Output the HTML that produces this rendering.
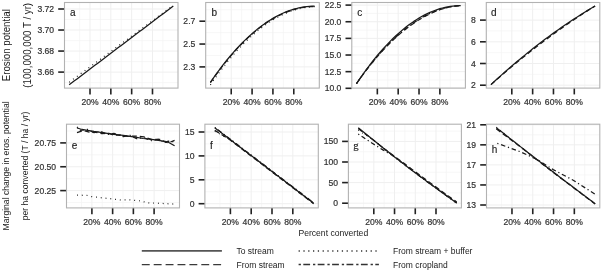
<!DOCTYPE html><html><head><meta charset="utf-8"><style>html,body{margin:0;padding:0;background:#fff;width:602px;height:271px;overflow:hidden}</style></head><body><svg width="602" height="271" viewBox="0 0 602 271" style="display:block;font-family:'Liberation Sans', sans-serif;filter:grayscale(1) blur(0.3px)">
<rect width="602" height="271" fill="#fff"/>
<line x1="64.5" x2="178.0" y1="19.52" y2="19.52" stroke="#f4f4f4" stroke-width="0.7"/>
<line x1="64.5" x2="178.0" y1="40.55" y2="40.55" stroke="#f4f4f4" stroke-width="0.7"/>
<line x1="64.5" x2="178.0" y1="61.58" y2="61.58" stroke="#f4f4f4" stroke-width="0.7"/>
<line x1="64.5" x2="178.0" y1="82.62" y2="82.62" stroke="#f4f4f4" stroke-width="0.7"/>
<line x1="79.60" x2="79.60" y1="2.5" y2="88.1" stroke="#f4f4f4" stroke-width="0.7"/>
<line x1="100.42" x2="100.42" y1="2.5" y2="88.1" stroke="#f4f4f4" stroke-width="0.7"/>
<line x1="121.25" x2="121.25" y1="2.5" y2="88.1" stroke="#f4f4f4" stroke-width="0.7"/>
<line x1="142.08" x2="142.08" y1="2.5" y2="88.1" stroke="#f4f4f4" stroke-width="0.7"/>
<line x1="162.90" x2="162.90" y1="2.5" y2="88.1" stroke="#f4f4f4" stroke-width="0.7"/>
<line x1="64.5" x2="178.0" y1="9.00" y2="9.00" stroke="#efefef" stroke-width="1"/>
<line x1="64.5" x2="178.0" y1="30.03" y2="30.03" stroke="#efefef" stroke-width="1"/>
<line x1="64.5" x2="178.0" y1="51.07" y2="51.07" stroke="#efefef" stroke-width="1"/>
<line x1="64.5" x2="178.0" y1="72.10" y2="72.10" stroke="#efefef" stroke-width="1"/>
<line x1="90.01" x2="90.01" y1="2.5" y2="88.1" stroke="#efefef" stroke-width="1"/>
<line x1="110.84" x2="110.84" y1="2.5" y2="88.1" stroke="#efefef" stroke-width="1"/>
<line x1="131.66" x2="131.66" y1="2.5" y2="88.1" stroke="#efefef" stroke-width="1"/>
<line x1="152.49" x2="152.49" y1="2.5" y2="88.1" stroke="#efefef" stroke-width="1"/>
<line x1="58.20" x2="64.50" y1="9.00" y2="9.00" stroke="#222" stroke-width="1.6"/>
<text transform="translate(54.10,12.00) scale(1,1.08)" font-size="8.6" fill="#333" stroke="#333" stroke-width="0.2" text-anchor="end">3.72</text>
<line x1="58.20" x2="64.50" y1="30.03" y2="30.03" stroke="#222" stroke-width="1.6"/>
<text transform="translate(54.10,33.03) scale(1,1.08)" font-size="8.6" fill="#333" stroke="#333" stroke-width="0.2" text-anchor="end">3.70</text>
<line x1="58.20" x2="64.50" y1="51.07" y2="51.07" stroke="#222" stroke-width="1.6"/>
<text transform="translate(54.10,54.07) scale(1,1.08)" font-size="8.6" fill="#333" stroke="#333" stroke-width="0.2" text-anchor="end">3.68</text>
<line x1="58.20" x2="64.50" y1="72.10" y2="72.10" stroke="#222" stroke-width="1.6"/>
<text transform="translate(54.10,75.10) scale(1,1.08)" font-size="8.6" fill="#333" stroke="#333" stroke-width="0.2" text-anchor="end">3.66</text>
<line x1="90.01" x2="90.01" y1="88.10" y2="94.40" stroke="#222" stroke-width="1.6"/>
<text transform="translate(90.01,105.00) scale(1,1.08)" font-size="8.6" fill="#333" stroke="#333" stroke-width="0.2" text-anchor="middle">20%</text>
<line x1="110.84" x2="110.84" y1="88.10" y2="94.40" stroke="#222" stroke-width="1.6"/>
<text transform="translate(110.84,105.00) scale(1,1.08)" font-size="8.6" fill="#333" stroke="#333" stroke-width="0.2" text-anchor="middle">40%</text>
<line x1="131.66" x2="131.66" y1="88.10" y2="94.40" stroke="#222" stroke-width="1.6"/>
<text transform="translate(131.66,105.00) scale(1,1.08)" font-size="8.6" fill="#333" stroke="#333" stroke-width="0.2" text-anchor="middle">60%</text>
<line x1="152.49" x2="152.49" y1="88.10" y2="94.40" stroke="#222" stroke-width="1.6"/>
<text transform="translate(152.49,105.00) scale(1,1.08)" font-size="8.6" fill="#333" stroke="#333" stroke-width="0.2" text-anchor="middle">80%</text>
<text x="70.0" y="15.600000000000001" font-size="10.0" fill="#222" stroke="#222" stroke-width="0.15" style="font-family:'Liberation Sans', sans-serif">a</text>
<line x1="205.7" x2="319.3" y1="9.78" y2="9.78" stroke="#f4f4f4" stroke-width="0.7"/>
<line x1="205.7" x2="319.3" y1="32.62" y2="32.62" stroke="#f4f4f4" stroke-width="0.7"/>
<line x1="205.7" x2="319.3" y1="55.48" y2="55.48" stroke="#f4f4f4" stroke-width="0.7"/>
<line x1="205.7" x2="319.3" y1="78.32" y2="78.32" stroke="#f4f4f4" stroke-width="0.7"/>
<line x1="220.81" x2="220.81" y1="2.5" y2="88.1" stroke="#f4f4f4" stroke-width="0.7"/>
<line x1="241.66" x2="241.66" y1="2.5" y2="88.1" stroke="#f4f4f4" stroke-width="0.7"/>
<line x1="262.50" x2="262.50" y1="2.5" y2="88.1" stroke="#f4f4f4" stroke-width="0.7"/>
<line x1="283.34" x2="283.34" y1="2.5" y2="88.1" stroke="#f4f4f4" stroke-width="0.7"/>
<line x1="304.19" x2="304.19" y1="2.5" y2="88.1" stroke="#f4f4f4" stroke-width="0.7"/>
<line x1="205.7" x2="319.3" y1="21.20" y2="21.20" stroke="#efefef" stroke-width="1"/>
<line x1="205.7" x2="319.3" y1="44.05" y2="44.05" stroke="#efefef" stroke-width="1"/>
<line x1="205.7" x2="319.3" y1="66.90" y2="66.90" stroke="#efefef" stroke-width="1"/>
<line x1="231.23" x2="231.23" y1="2.5" y2="88.1" stroke="#efefef" stroke-width="1"/>
<line x1="252.08" x2="252.08" y1="2.5" y2="88.1" stroke="#efefef" stroke-width="1"/>
<line x1="272.92" x2="272.92" y1="2.5" y2="88.1" stroke="#efefef" stroke-width="1"/>
<line x1="293.77" x2="293.77" y1="2.5" y2="88.1" stroke="#efefef" stroke-width="1"/>
<line x1="199.40" x2="205.70" y1="21.20" y2="21.20" stroke="#222" stroke-width="1.6"/>
<text transform="translate(195.30,24.20) scale(1,1.08)" font-size="8.6" fill="#333" stroke="#333" stroke-width="0.2" text-anchor="end">2.7</text>
<line x1="199.40" x2="205.70" y1="44.05" y2="44.05" stroke="#222" stroke-width="1.6"/>
<text transform="translate(195.30,47.05) scale(1,1.08)" font-size="8.6" fill="#333" stroke="#333" stroke-width="0.2" text-anchor="end">2.5</text>
<line x1="199.40" x2="205.70" y1="66.90" y2="66.90" stroke="#222" stroke-width="1.6"/>
<text transform="translate(195.30,69.90) scale(1,1.08)" font-size="8.6" fill="#333" stroke="#333" stroke-width="0.2" text-anchor="end">2.3</text>
<line x1="231.23" x2="231.23" y1="88.10" y2="94.40" stroke="#222" stroke-width="1.6"/>
<text transform="translate(231.23,105.00) scale(1,1.08)" font-size="8.6" fill="#333" stroke="#333" stroke-width="0.2" text-anchor="middle">20%</text>
<line x1="252.08" x2="252.08" y1="88.10" y2="94.40" stroke="#222" stroke-width="1.6"/>
<text transform="translate(252.08,105.00) scale(1,1.08)" font-size="8.6" fill="#333" stroke="#333" stroke-width="0.2" text-anchor="middle">40%</text>
<line x1="272.92" x2="272.92" y1="88.10" y2="94.40" stroke="#222" stroke-width="1.6"/>
<text transform="translate(272.92,105.00) scale(1,1.08)" font-size="8.6" fill="#333" stroke="#333" stroke-width="0.2" text-anchor="middle">60%</text>
<line x1="293.77" x2="293.77" y1="88.10" y2="94.40" stroke="#222" stroke-width="1.6"/>
<text transform="translate(293.77,105.00) scale(1,1.08)" font-size="8.6" fill="#333" stroke="#333" stroke-width="0.2" text-anchor="middle">80%</text>
<text x="211.6" y="15.600000000000001" font-size="10.0" fill="#222" stroke="#222" stroke-width="0.15" style="font-family:'Liberation Sans', sans-serif">b</text>
<line x1="351.8" x2="465.4" y1="13.42" y2="13.42" stroke="#f4f4f4" stroke-width="0.7"/>
<line x1="351.8" x2="465.4" y1="30.06" y2="30.06" stroke="#f4f4f4" stroke-width="0.7"/>
<line x1="351.8" x2="465.4" y1="46.70" y2="46.70" stroke="#f4f4f4" stroke-width="0.7"/>
<line x1="351.8" x2="465.4" y1="63.34" y2="63.34" stroke="#f4f4f4" stroke-width="0.7"/>
<line x1="351.8" x2="465.4" y1="79.98" y2="79.98" stroke="#f4f4f4" stroke-width="0.7"/>
<line x1="366.91" x2="366.91" y1="2.5" y2="88.1" stroke="#f4f4f4" stroke-width="0.7"/>
<line x1="387.76" x2="387.76" y1="2.5" y2="88.1" stroke="#f4f4f4" stroke-width="0.7"/>
<line x1="408.60" x2="408.60" y1="2.5" y2="88.1" stroke="#f4f4f4" stroke-width="0.7"/>
<line x1="429.44" x2="429.44" y1="2.5" y2="88.1" stroke="#f4f4f4" stroke-width="0.7"/>
<line x1="450.29" x2="450.29" y1="2.5" y2="88.1" stroke="#f4f4f4" stroke-width="0.7"/>
<line x1="351.8" x2="465.4" y1="5.10" y2="5.10" stroke="#efefef" stroke-width="1"/>
<line x1="351.8" x2="465.4" y1="21.74" y2="21.74" stroke="#efefef" stroke-width="1"/>
<line x1="351.8" x2="465.4" y1="38.38" y2="38.38" stroke="#efefef" stroke-width="1"/>
<line x1="351.8" x2="465.4" y1="55.02" y2="55.02" stroke="#efefef" stroke-width="1"/>
<line x1="351.8" x2="465.4" y1="71.66" y2="71.66" stroke="#efefef" stroke-width="1"/>
<line x1="351.8" x2="465.4" y1="88.30" y2="88.30" stroke="#efefef" stroke-width="1"/>
<line x1="377.33" x2="377.33" y1="2.5" y2="88.1" stroke="#efefef" stroke-width="1"/>
<line x1="398.18" x2="398.18" y1="2.5" y2="88.1" stroke="#efefef" stroke-width="1"/>
<line x1="419.02" x2="419.02" y1="2.5" y2="88.1" stroke="#efefef" stroke-width="1"/>
<line x1="439.87" x2="439.87" y1="2.5" y2="88.1" stroke="#efefef" stroke-width="1"/>
<line x1="345.50" x2="351.80" y1="5.10" y2="5.10" stroke="#222" stroke-width="1.6"/>
<text transform="translate(341.40,8.10) scale(1,1.08)" font-size="8.6" fill="#333" stroke="#333" stroke-width="0.2" text-anchor="end">22.5</text>
<line x1="345.50" x2="351.80" y1="21.74" y2="21.74" stroke="#222" stroke-width="1.6"/>
<text transform="translate(341.40,24.74) scale(1,1.08)" font-size="8.6" fill="#333" stroke="#333" stroke-width="0.2" text-anchor="end">20.0</text>
<line x1="345.50" x2="351.80" y1="38.38" y2="38.38" stroke="#222" stroke-width="1.6"/>
<text transform="translate(341.40,41.38) scale(1,1.08)" font-size="8.6" fill="#333" stroke="#333" stroke-width="0.2" text-anchor="end">17.5</text>
<line x1="345.50" x2="351.80" y1="55.02" y2="55.02" stroke="#222" stroke-width="1.6"/>
<text transform="translate(341.40,58.02) scale(1,1.08)" font-size="8.6" fill="#333" stroke="#333" stroke-width="0.2" text-anchor="end">15.0</text>
<line x1="345.50" x2="351.80" y1="71.66" y2="71.66" stroke="#222" stroke-width="1.6"/>
<text transform="translate(341.40,74.66) scale(1,1.08)" font-size="8.6" fill="#333" stroke="#333" stroke-width="0.2" text-anchor="end">12.5</text>
<line x1="345.50" x2="351.80" y1="88.30" y2="88.30" stroke="#222" stroke-width="1.6"/>
<text transform="translate(341.40,91.30) scale(1,1.08)" font-size="8.6" fill="#333" stroke="#333" stroke-width="0.2" text-anchor="end">10.0</text>
<line x1="377.33" x2="377.33" y1="88.10" y2="94.40" stroke="#222" stroke-width="1.6"/>
<text transform="translate(377.33,105.00) scale(1,1.08)" font-size="8.6" fill="#333" stroke="#333" stroke-width="0.2" text-anchor="middle">20%</text>
<line x1="398.18" x2="398.18" y1="88.10" y2="94.40" stroke="#222" stroke-width="1.6"/>
<text transform="translate(398.18,105.00) scale(1,1.08)" font-size="8.6" fill="#333" stroke="#333" stroke-width="0.2" text-anchor="middle">40%</text>
<line x1="419.02" x2="419.02" y1="88.10" y2="94.40" stroke="#222" stroke-width="1.6"/>
<text transform="translate(419.02,105.00) scale(1,1.08)" font-size="8.6" fill="#333" stroke="#333" stroke-width="0.2" text-anchor="middle">60%</text>
<line x1="439.87" x2="439.87" y1="88.10" y2="94.40" stroke="#222" stroke-width="1.6"/>
<text transform="translate(439.87,105.00) scale(1,1.08)" font-size="8.6" fill="#333" stroke="#333" stroke-width="0.2" text-anchor="middle">80%</text>
<text x="357.3" y="15.600000000000001" font-size="10.0" fill="#222" stroke="#222" stroke-width="0.15" style="font-family:'Liberation Sans', sans-serif">c</text>
<line x1="486.3" x2="599.8" y1="9.25" y2="9.25" stroke="#f4f4f4" stroke-width="0.7"/>
<line x1="486.3" x2="599.8" y1="30.95" y2="30.95" stroke="#f4f4f4" stroke-width="0.7"/>
<line x1="486.3" x2="599.8" y1="52.65" y2="52.65" stroke="#f4f4f4" stroke-width="0.7"/>
<line x1="486.3" x2="599.8" y1="74.35" y2="74.35" stroke="#f4f4f4" stroke-width="0.7"/>
<line x1="501.40" x2="501.40" y1="2.5" y2="88.1" stroke="#f4f4f4" stroke-width="0.7"/>
<line x1="522.22" x2="522.22" y1="2.5" y2="88.1" stroke="#f4f4f4" stroke-width="0.7"/>
<line x1="543.05" x2="543.05" y1="2.5" y2="88.1" stroke="#f4f4f4" stroke-width="0.7"/>
<line x1="563.88" x2="563.88" y1="2.5" y2="88.1" stroke="#f4f4f4" stroke-width="0.7"/>
<line x1="584.70" x2="584.70" y1="2.5" y2="88.1" stroke="#f4f4f4" stroke-width="0.7"/>
<line x1="486.3" x2="599.8" y1="20.10" y2="20.10" stroke="#efefef" stroke-width="1"/>
<line x1="486.3" x2="599.8" y1="41.80" y2="41.80" stroke="#efefef" stroke-width="1"/>
<line x1="486.3" x2="599.8" y1="63.50" y2="63.50" stroke="#efefef" stroke-width="1"/>
<line x1="486.3" x2="599.8" y1="85.20" y2="85.20" stroke="#efefef" stroke-width="1"/>
<line x1="511.81" x2="511.81" y1="2.5" y2="88.1" stroke="#efefef" stroke-width="1"/>
<line x1="532.64" x2="532.64" y1="2.5" y2="88.1" stroke="#efefef" stroke-width="1"/>
<line x1="553.46" x2="553.46" y1="2.5" y2="88.1" stroke="#efefef" stroke-width="1"/>
<line x1="574.29" x2="574.29" y1="2.5" y2="88.1" stroke="#efefef" stroke-width="1"/>
<line x1="480.00" x2="486.30" y1="20.10" y2="20.10" stroke="#222" stroke-width="1.6"/>
<text transform="translate(475.90,23.10) scale(1,1.08)" font-size="8.6" fill="#333" stroke="#333" stroke-width="0.2" text-anchor="end">8</text>
<line x1="480.00" x2="486.30" y1="41.80" y2="41.80" stroke="#222" stroke-width="1.6"/>
<text transform="translate(475.90,44.80) scale(1,1.08)" font-size="8.6" fill="#333" stroke="#333" stroke-width="0.2" text-anchor="end">6</text>
<line x1="480.00" x2="486.30" y1="63.50" y2="63.50" stroke="#222" stroke-width="1.6"/>
<text transform="translate(475.90,66.50) scale(1,1.08)" font-size="8.6" fill="#333" stroke="#333" stroke-width="0.2" text-anchor="end">4</text>
<line x1="480.00" x2="486.30" y1="85.20" y2="85.20" stroke="#222" stroke-width="1.6"/>
<text transform="translate(475.90,88.20) scale(1,1.08)" font-size="8.6" fill="#333" stroke="#333" stroke-width="0.2" text-anchor="end">2</text>
<line x1="511.81" x2="511.81" y1="88.10" y2="94.40" stroke="#222" stroke-width="1.6"/>
<text transform="translate(511.81,105.00) scale(1,1.08)" font-size="8.6" fill="#333" stroke="#333" stroke-width="0.2" text-anchor="middle">20%</text>
<line x1="532.64" x2="532.64" y1="88.10" y2="94.40" stroke="#222" stroke-width="1.6"/>
<text transform="translate(532.64,105.00) scale(1,1.08)" font-size="8.6" fill="#333" stroke="#333" stroke-width="0.2" text-anchor="middle">40%</text>
<line x1="553.46" x2="553.46" y1="88.10" y2="94.40" stroke="#222" stroke-width="1.6"/>
<text transform="translate(553.46,105.00) scale(1,1.08)" font-size="8.6" fill="#333" stroke="#333" stroke-width="0.2" text-anchor="middle">60%</text>
<line x1="574.29" x2="574.29" y1="88.10" y2="94.40" stroke="#222" stroke-width="1.6"/>
<text transform="translate(574.29,105.00) scale(1,1.08)" font-size="8.6" fill="#333" stroke="#333" stroke-width="0.2" text-anchor="middle">80%</text>
<text x="490.9" y="15.600000000000001" font-size="10.0" fill="#222" stroke="#222" stroke-width="0.15" style="font-family:'Liberation Sans', sans-serif">d</text>
<line x1="66.5" x2="179.5" y1="130.98" y2="130.98" stroke="#f4f4f4" stroke-width="0.7"/>
<line x1="66.5" x2="179.5" y1="154.82" y2="154.82" stroke="#f4f4f4" stroke-width="0.7"/>
<line x1="66.5" x2="179.5" y1="178.68" y2="178.68" stroke="#f4f4f4" stroke-width="0.7"/>
<line x1="66.5" x2="179.5" y1="202.52" y2="202.52" stroke="#f4f4f4" stroke-width="0.7"/>
<line x1="81.53" x2="81.53" y1="124.2" y2="207.9" stroke="#f4f4f4" stroke-width="0.7"/>
<line x1="102.27" x2="102.27" y1="124.2" y2="207.9" stroke="#f4f4f4" stroke-width="0.7"/>
<line x1="123.00" x2="123.00" y1="124.2" y2="207.9" stroke="#f4f4f4" stroke-width="0.7"/>
<line x1="143.73" x2="143.73" y1="124.2" y2="207.9" stroke="#f4f4f4" stroke-width="0.7"/>
<line x1="164.47" x2="164.47" y1="124.2" y2="207.9" stroke="#f4f4f4" stroke-width="0.7"/>
<line x1="66.5" x2="179.5" y1="142.90" y2="142.90" stroke="#efefef" stroke-width="1"/>
<line x1="66.5" x2="179.5" y1="166.75" y2="166.75" stroke="#efefef" stroke-width="1"/>
<line x1="66.5" x2="179.5" y1="190.60" y2="190.60" stroke="#efefef" stroke-width="1"/>
<line x1="91.90" x2="91.90" y1="124.2" y2="207.9" stroke="#efefef" stroke-width="1"/>
<line x1="112.63" x2="112.63" y1="124.2" y2="207.9" stroke="#efefef" stroke-width="1"/>
<line x1="133.37" x2="133.37" y1="124.2" y2="207.9" stroke="#efefef" stroke-width="1"/>
<line x1="154.10" x2="154.10" y1="124.2" y2="207.9" stroke="#efefef" stroke-width="1"/>
<line x1="60.20" x2="66.50" y1="142.90" y2="142.90" stroke="#222" stroke-width="1.6"/>
<text transform="translate(56.10,145.90) scale(1,1.08)" font-size="8.6" fill="#333" stroke="#333" stroke-width="0.2" text-anchor="end">20.75</text>
<line x1="60.20" x2="66.50" y1="166.75" y2="166.75" stroke="#222" stroke-width="1.6"/>
<text transform="translate(56.10,169.75) scale(1,1.08)" font-size="8.6" fill="#333" stroke="#333" stroke-width="0.2" text-anchor="end">20.50</text>
<line x1="60.20" x2="66.50" y1="190.60" y2="190.60" stroke="#222" stroke-width="1.6"/>
<text transform="translate(56.10,193.60) scale(1,1.08)" font-size="8.6" fill="#333" stroke="#333" stroke-width="0.2" text-anchor="end">20.25</text>
<line x1="91.90" x2="91.90" y1="207.90" y2="214.20" stroke="#222" stroke-width="1.6"/>
<text transform="translate(91.90,224.80) scale(1,1.08)" font-size="8.6" fill="#333" stroke="#333" stroke-width="0.2" text-anchor="middle">20%</text>
<line x1="112.63" x2="112.63" y1="207.90" y2="214.20" stroke="#222" stroke-width="1.6"/>
<text transform="translate(112.63,224.80) scale(1,1.08)" font-size="8.6" fill="#333" stroke="#333" stroke-width="0.2" text-anchor="middle">40%</text>
<line x1="133.37" x2="133.37" y1="207.90" y2="214.20" stroke="#222" stroke-width="1.6"/>
<text transform="translate(133.37,224.80) scale(1,1.08)" font-size="8.6" fill="#333" stroke="#333" stroke-width="0.2" text-anchor="middle">60%</text>
<line x1="154.10" x2="154.10" y1="207.90" y2="214.20" stroke="#222" stroke-width="1.6"/>
<text transform="translate(154.10,224.80) scale(1,1.08)" font-size="8.6" fill="#333" stroke="#333" stroke-width="0.2" text-anchor="middle">80%</text>
<text x="71.8" y="148.60000000000002" font-size="10.0" fill="#222" stroke="#222" stroke-width="0.15" style="font-family:'Liberation Sans', sans-serif">e</text>
<line x1="204.9" x2="318.3" y1="143.95" y2="143.95" stroke="#f4f4f4" stroke-width="0.7"/>
<line x1="204.9" x2="318.3" y1="167.85" y2="167.85" stroke="#f4f4f4" stroke-width="0.7"/>
<line x1="204.9" x2="318.3" y1="191.75" y2="191.75" stroke="#f4f4f4" stroke-width="0.7"/>
<line x1="219.99" x2="219.99" y1="124.2" y2="207.9" stroke="#f4f4f4" stroke-width="0.7"/>
<line x1="240.79" x2="240.79" y1="124.2" y2="207.9" stroke="#f4f4f4" stroke-width="0.7"/>
<line x1="261.60" x2="261.60" y1="124.2" y2="207.9" stroke="#f4f4f4" stroke-width="0.7"/>
<line x1="282.41" x2="282.41" y1="124.2" y2="207.9" stroke="#f4f4f4" stroke-width="0.7"/>
<line x1="303.21" x2="303.21" y1="124.2" y2="207.9" stroke="#f4f4f4" stroke-width="0.7"/>
<line x1="204.9" x2="318.3" y1="132.00" y2="132.00" stroke="#efefef" stroke-width="1"/>
<line x1="204.9" x2="318.3" y1="155.90" y2="155.90" stroke="#efefef" stroke-width="1"/>
<line x1="204.9" x2="318.3" y1="179.80" y2="179.80" stroke="#efefef" stroke-width="1"/>
<line x1="204.9" x2="318.3" y1="203.70" y2="203.70" stroke="#efefef" stroke-width="1"/>
<line x1="230.39" x2="230.39" y1="124.2" y2="207.9" stroke="#efefef" stroke-width="1"/>
<line x1="251.20" x2="251.20" y1="124.2" y2="207.9" stroke="#efefef" stroke-width="1"/>
<line x1="272.00" x2="272.00" y1="124.2" y2="207.9" stroke="#efefef" stroke-width="1"/>
<line x1="292.81" x2="292.81" y1="124.2" y2="207.9" stroke="#efefef" stroke-width="1"/>
<line x1="198.60" x2="204.90" y1="132.00" y2="132.00" stroke="#222" stroke-width="1.6"/>
<text transform="translate(194.50,135.00) scale(1,1.08)" font-size="8.6" fill="#333" stroke="#333" stroke-width="0.2" text-anchor="end">15</text>
<line x1="198.60" x2="204.90" y1="155.90" y2="155.90" stroke="#222" stroke-width="1.6"/>
<text transform="translate(194.50,158.90) scale(1,1.08)" font-size="8.6" fill="#333" stroke="#333" stroke-width="0.2" text-anchor="end">10</text>
<line x1="198.60" x2="204.90" y1="179.80" y2="179.80" stroke="#222" stroke-width="1.6"/>
<text transform="translate(194.50,182.80) scale(1,1.08)" font-size="8.6" fill="#333" stroke="#333" stroke-width="0.2" text-anchor="end">5</text>
<line x1="198.60" x2="204.90" y1="203.70" y2="203.70" stroke="#222" stroke-width="1.6"/>
<text transform="translate(194.50,206.70) scale(1,1.08)" font-size="8.6" fill="#333" stroke="#333" stroke-width="0.2" text-anchor="end">0</text>
<line x1="230.39" x2="230.39" y1="207.90" y2="214.20" stroke="#222" stroke-width="1.6"/>
<text transform="translate(230.39,224.80) scale(1,1.08)" font-size="8.6" fill="#333" stroke="#333" stroke-width="0.2" text-anchor="middle">20%</text>
<line x1="251.20" x2="251.20" y1="207.90" y2="214.20" stroke="#222" stroke-width="1.6"/>
<text transform="translate(251.20,224.80) scale(1,1.08)" font-size="8.6" fill="#333" stroke="#333" stroke-width="0.2" text-anchor="middle">40%</text>
<line x1="272.00" x2="272.00" y1="207.90" y2="214.20" stroke="#222" stroke-width="1.6"/>
<text transform="translate(272.00,224.80) scale(1,1.08)" font-size="8.6" fill="#333" stroke="#333" stroke-width="0.2" text-anchor="middle">60%</text>
<line x1="292.81" x2="292.81" y1="207.90" y2="214.20" stroke="#222" stroke-width="1.6"/>
<text transform="translate(292.81,224.80) scale(1,1.08)" font-size="8.6" fill="#333" stroke="#333" stroke-width="0.2" text-anchor="middle">80%</text>
<text x="210.0" y="148.8" font-size="10.0" fill="#222" stroke="#222" stroke-width="0.15" style="font-family:'Liberation Sans', sans-serif">f</text>
<line x1="348.4" x2="461.4" y1="131.10" y2="131.10" stroke="#f4f4f4" stroke-width="0.7"/>
<line x1="348.4" x2="461.4" y1="151.70" y2="151.70" stroke="#f4f4f4" stroke-width="0.7"/>
<line x1="348.4" x2="461.4" y1="172.30" y2="172.30" stroke="#f4f4f4" stroke-width="0.7"/>
<line x1="348.4" x2="461.4" y1="192.90" y2="192.90" stroke="#f4f4f4" stroke-width="0.7"/>
<line x1="363.43" x2="363.43" y1="124.2" y2="207.9" stroke="#f4f4f4" stroke-width="0.7"/>
<line x1="384.17" x2="384.17" y1="124.2" y2="207.9" stroke="#f4f4f4" stroke-width="0.7"/>
<line x1="404.90" x2="404.90" y1="124.2" y2="207.9" stroke="#f4f4f4" stroke-width="0.7"/>
<line x1="425.63" x2="425.63" y1="124.2" y2="207.9" stroke="#f4f4f4" stroke-width="0.7"/>
<line x1="446.37" x2="446.37" y1="124.2" y2="207.9" stroke="#f4f4f4" stroke-width="0.7"/>
<line x1="348.4" x2="461.4" y1="141.40" y2="141.40" stroke="#efefef" stroke-width="1"/>
<line x1="348.4" x2="461.4" y1="162.00" y2="162.00" stroke="#efefef" stroke-width="1"/>
<line x1="348.4" x2="461.4" y1="182.60" y2="182.60" stroke="#efefef" stroke-width="1"/>
<line x1="348.4" x2="461.4" y1="203.20" y2="203.20" stroke="#efefef" stroke-width="1"/>
<line x1="373.80" x2="373.80" y1="124.2" y2="207.9" stroke="#efefef" stroke-width="1"/>
<line x1="394.53" x2="394.53" y1="124.2" y2="207.9" stroke="#efefef" stroke-width="1"/>
<line x1="415.27" x2="415.27" y1="124.2" y2="207.9" stroke="#efefef" stroke-width="1"/>
<line x1="436.00" x2="436.00" y1="124.2" y2="207.9" stroke="#efefef" stroke-width="1"/>
<line x1="342.10" x2="348.40" y1="141.40" y2="141.40" stroke="#222" stroke-width="1.6"/>
<text transform="translate(338.00,144.40) scale(1,1.08)" font-size="8.6" fill="#333" stroke="#333" stroke-width="0.2" text-anchor="end">150</text>
<line x1="342.10" x2="348.40" y1="162.00" y2="162.00" stroke="#222" stroke-width="1.6"/>
<text transform="translate(338.00,165.00) scale(1,1.08)" font-size="8.6" fill="#333" stroke="#333" stroke-width="0.2" text-anchor="end">100</text>
<line x1="342.10" x2="348.40" y1="182.60" y2="182.60" stroke="#222" stroke-width="1.6"/>
<text transform="translate(338.00,185.60) scale(1,1.08)" font-size="8.6" fill="#333" stroke="#333" stroke-width="0.2" text-anchor="end">50</text>
<line x1="342.10" x2="348.40" y1="203.20" y2="203.20" stroke="#222" stroke-width="1.6"/>
<text transform="translate(338.00,206.20) scale(1,1.08)" font-size="8.6" fill="#333" stroke="#333" stroke-width="0.2" text-anchor="end">0</text>
<line x1="373.80" x2="373.80" y1="207.90" y2="214.20" stroke="#222" stroke-width="1.6"/>
<text transform="translate(373.80,224.80) scale(1,1.08)" font-size="8.6" fill="#333" stroke="#333" stroke-width="0.2" text-anchor="middle">20%</text>
<line x1="394.53" x2="394.53" y1="207.90" y2="214.20" stroke="#222" stroke-width="1.6"/>
<text transform="translate(394.53,224.80) scale(1,1.08)" font-size="8.6" fill="#333" stroke="#333" stroke-width="0.2" text-anchor="middle">40%</text>
<line x1="415.27" x2="415.27" y1="207.90" y2="214.20" stroke="#222" stroke-width="1.6"/>
<text transform="translate(415.27,224.80) scale(1,1.08)" font-size="8.6" fill="#333" stroke="#333" stroke-width="0.2" text-anchor="middle">60%</text>
<line x1="436.00" x2="436.00" y1="207.90" y2="214.20" stroke="#222" stroke-width="1.6"/>
<text transform="translate(436.00,224.80) scale(1,1.08)" font-size="8.6" fill="#333" stroke="#333" stroke-width="0.2" text-anchor="middle">80%</text>
<text x="353.3" y="148.5" font-size="10.8" fill="#222" stroke="#222" stroke-width="0.15" style="font-family:'Liberation Serif', serif">g</text>
<line x1="486.5" x2="599.8" y1="134.82" y2="134.82" stroke="#f4f4f4" stroke-width="0.7"/>
<line x1="486.5" x2="599.8" y1="154.88" y2="154.88" stroke="#f4f4f4" stroke-width="0.7"/>
<line x1="486.5" x2="599.8" y1="174.93" y2="174.93" stroke="#f4f4f4" stroke-width="0.7"/>
<line x1="486.5" x2="599.8" y1="194.97" y2="194.97" stroke="#f4f4f4" stroke-width="0.7"/>
<line x1="501.57" x2="501.57" y1="124.2" y2="207.9" stroke="#f4f4f4" stroke-width="0.7"/>
<line x1="522.36" x2="522.36" y1="124.2" y2="207.9" stroke="#f4f4f4" stroke-width="0.7"/>
<line x1="543.15" x2="543.15" y1="124.2" y2="207.9" stroke="#f4f4f4" stroke-width="0.7"/>
<line x1="563.94" x2="563.94" y1="124.2" y2="207.9" stroke="#f4f4f4" stroke-width="0.7"/>
<line x1="584.73" x2="584.73" y1="124.2" y2="207.9" stroke="#f4f4f4" stroke-width="0.7"/>
<line x1="486.5" x2="599.8" y1="124.80" y2="124.80" stroke="#efefef" stroke-width="1"/>
<line x1="486.5" x2="599.8" y1="144.85" y2="144.85" stroke="#efefef" stroke-width="1"/>
<line x1="486.5" x2="599.8" y1="164.90" y2="164.90" stroke="#efefef" stroke-width="1"/>
<line x1="486.5" x2="599.8" y1="184.95" y2="184.95" stroke="#efefef" stroke-width="1"/>
<line x1="486.5" x2="599.8" y1="205.00" y2="205.00" stroke="#efefef" stroke-width="1"/>
<line x1="511.97" x2="511.97" y1="124.2" y2="207.9" stroke="#efefef" stroke-width="1"/>
<line x1="532.76" x2="532.76" y1="124.2" y2="207.9" stroke="#efefef" stroke-width="1"/>
<line x1="553.54" x2="553.54" y1="124.2" y2="207.9" stroke="#efefef" stroke-width="1"/>
<line x1="574.33" x2="574.33" y1="124.2" y2="207.9" stroke="#efefef" stroke-width="1"/>
<line x1="480.20" x2="486.50" y1="124.80" y2="124.80" stroke="#222" stroke-width="1.6"/>
<text transform="translate(476.10,127.80) scale(1,1.08)" font-size="8.6" fill="#333" stroke="#333" stroke-width="0.2" text-anchor="end">21</text>
<line x1="480.20" x2="486.50" y1="144.85" y2="144.85" stroke="#222" stroke-width="1.6"/>
<text transform="translate(476.10,147.85) scale(1,1.08)" font-size="8.6" fill="#333" stroke="#333" stroke-width="0.2" text-anchor="end">19</text>
<line x1="480.20" x2="486.50" y1="164.90" y2="164.90" stroke="#222" stroke-width="1.6"/>
<text transform="translate(476.10,167.90) scale(1,1.08)" font-size="8.6" fill="#333" stroke="#333" stroke-width="0.2" text-anchor="end">17</text>
<line x1="480.20" x2="486.50" y1="184.95" y2="184.95" stroke="#222" stroke-width="1.6"/>
<text transform="translate(476.10,187.95) scale(1,1.08)" font-size="8.6" fill="#333" stroke="#333" stroke-width="0.2" text-anchor="end">15</text>
<line x1="480.20" x2="486.50" y1="205.00" y2="205.00" stroke="#222" stroke-width="1.6"/>
<text transform="translate(476.10,208.00) scale(1,1.08)" font-size="8.6" fill="#333" stroke="#333" stroke-width="0.2" text-anchor="end">13</text>
<line x1="511.97" x2="511.97" y1="207.90" y2="214.20" stroke="#222" stroke-width="1.6"/>
<text transform="translate(511.97,224.80) scale(1,1.08)" font-size="8.6" fill="#333" stroke="#333" stroke-width="0.2" text-anchor="middle">20%</text>
<line x1="532.76" x2="532.76" y1="207.90" y2="214.20" stroke="#222" stroke-width="1.6"/>
<text transform="translate(532.76,224.80) scale(1,1.08)" font-size="8.6" fill="#333" stroke="#333" stroke-width="0.2" text-anchor="middle">40%</text>
<line x1="553.54" x2="553.54" y1="207.90" y2="214.20" stroke="#222" stroke-width="1.6"/>
<text transform="translate(553.54,224.80) scale(1,1.08)" font-size="8.6" fill="#333" stroke="#333" stroke-width="0.2" text-anchor="middle">60%</text>
<line x1="574.33" x2="574.33" y1="207.90" y2="214.20" stroke="#222" stroke-width="1.6"/>
<text transform="translate(574.33,224.80) scale(1,1.08)" font-size="8.6" fill="#333" stroke="#333" stroke-width="0.2" text-anchor="middle">80%</text>
<text x="491.8" y="152.9" font-size="10.0" fill="#222" stroke="#222" stroke-width="0.15" style="font-family:'Liberation Sans', sans-serif">h</text>
<polyline points="69.19,82.20 71.79,80.28 74.39,78.36 77.00,76.43 79.60,74.51 82.20,72.59 84.81,70.66 87.41,68.74 90.01,66.82 92.61,64.90 95.22,62.97 97.82,61.05 100.42,59.13 103.03,57.21 105.63,55.28 108.23,53.36 110.84,51.44 113.44,49.52 116.04,47.59 118.65,45.67 121.25,43.75 123.85,41.83 126.46,39.90 129.06,37.98 131.66,36.06 134.27,34.14 136.87,32.21 139.47,30.29 142.08,28.37 144.68,26.45 147.28,24.52 149.89,22.60 152.49,20.68 155.09,18.76 157.69,16.83 160.30,14.91 162.90,12.99 165.50,11.07 168.11,9.14 170.71,7.22 173.31,5.30" fill="none" stroke="#1a1a1a" stroke-width="1.25" stroke-linejoin="round" stroke-dasharray="0.9 3.9"/>
<polyline points="69.19,84.80 71.79,82.83 74.39,80.86 77.00,78.89 79.60,76.92 82.20,74.95 84.81,72.98 87.41,71.01 90.01,69.04 92.61,67.07 95.22,65.10 97.82,63.13 100.42,61.16 103.03,59.19 105.63,57.22 108.23,55.25 110.84,53.28 113.44,51.31 116.04,49.34 118.65,47.37 121.25,45.40 123.85,43.43 126.46,41.46 129.06,39.49 131.66,37.52 134.27,35.55 136.87,33.58 139.47,31.61 142.08,29.64 144.68,27.67 147.28,25.70 149.89,23.73 152.49,21.76 155.09,19.79 157.69,17.82 160.30,15.85 162.90,13.88 165.50,11.91 168.11,9.94 170.71,7.97 173.31,6.00" fill="none" stroke="#1a1a1a" stroke-width="1.25" stroke-linejoin="round"/>
<polyline points="210.39,84.90 213.00,81.11 215.60,77.41 218.21,73.81 220.81,70.30 223.42,66.88 226.02,63.57 228.63,60.34 231.23,57.21 233.84,54.18 236.44,51.24 239.05,48.39 241.66,45.64 244.26,42.99 246.87,40.43 249.47,37.96 252.08,35.59 254.68,33.31 257.29,31.13 259.89,29.04 262.50,27.05 265.11,25.13 267.71,23.31 270.32,21.58 272.92,19.95 275.53,18.41 278.13,16.97 280.74,15.62 283.34,14.36 285.95,13.20 288.56,12.14 291.16,11.17 293.77,10.29 296.37,9.51 298.98,8.83 301.58,8.23 304.19,7.74 306.79,7.34 309.40,7.03 312.00,6.82 314.61,6.70" fill="none" stroke="#1a1a1a" stroke-width="1.25" stroke-linejoin="round" stroke-dasharray="0.9 3.9"/>
<polyline points="210.39,82.30 213.00,78.55 215.60,74.89 218.21,71.33 220.81,67.86 223.42,64.48 226.02,61.21 228.63,58.02 231.23,54.93 233.84,51.94 236.44,49.04 239.05,46.23 241.66,43.52 244.26,40.91 246.87,38.39 249.47,35.96 252.08,33.63 254.68,31.39 257.29,29.25 259.89,27.20 262.50,25.25 265.11,23.39 267.71,21.63 270.32,19.96 272.92,18.39 275.53,16.91 278.13,15.53 280.74,14.24 283.34,13.04 285.95,11.94 288.56,10.94 291.16,10.03 293.77,9.21 296.37,8.49 298.98,7.87 301.58,7.33 304.19,6.90 306.79,6.56 309.40,6.31 312.00,6.16 314.61,6.10" fill="none" stroke="#1a1a1a" stroke-width="1.25" stroke-linejoin="round"/>
<polyline points="210.39,82.70 213.00,78.95 215.60,75.29 218.21,71.73 220.81,68.26 223.42,64.88 226.02,61.61 228.63,58.42 231.23,55.33 233.84,52.34 236.44,49.44 239.05,46.63 241.66,43.92 244.26,41.31 246.87,38.79 249.47,36.36 252.08,34.03 254.68,31.79 257.29,29.65 259.89,27.60 262.50,25.65 265.11,23.79 267.71,22.03 270.32,20.36 272.92,18.79 275.53,17.31 278.13,15.93 280.74,14.64 283.34,13.44 285.95,12.34 288.56,11.34 291.16,10.43 293.77,9.61 296.37,8.89 298.98,8.27 301.58,7.73 304.19,7.30 306.79,6.96 309.40,6.71 312.00,6.56 314.61,6.50" fill="none" stroke="#1a1a1a" stroke-width="1.25" stroke-linejoin="round" stroke-dasharray="5 3"/>
<polyline points="356.49,83.60 359.10,79.89 361.70,76.28 364.31,72.76 366.91,69.34 369.52,66.01 372.12,62.77 374.73,59.63 377.33,56.58 379.94,53.62 382.54,50.75 385.15,47.97 387.76,45.28 390.36,42.67 392.97,40.16 395.57,37.73 398.18,35.39 400.78,33.14 403.39,30.97 405.99,28.89 408.60,26.90 411.21,24.99 413.81,23.17 416.42,21.44 419.02,19.79 421.63,18.23 424.23,16.76 426.84,15.37 429.44,14.08 432.05,12.87 434.66,11.75 437.26,10.72 439.87,9.78 442.47,8.93 445.08,8.17 447.68,7.51 450.29,6.94 452.89,6.46 455.50,6.08 458.10,5.79 460.71,5.60" fill="none" stroke="#1a1a1a" stroke-width="1.25" stroke-linejoin="round" stroke-dasharray="5 3"/>
<polyline points="356.49,83.60 359.10,79.85 361.70,76.20 364.31,72.64 366.91,69.18 369.52,65.82 372.12,62.55 374.73,59.37 377.33,56.28 379.94,53.29 382.54,50.39 385.15,47.59 387.76,44.87 390.36,42.25 392.97,39.71 395.57,37.27 398.18,34.92 400.78,32.65 403.39,30.48 405.99,28.39 408.60,26.40 411.21,24.49 413.81,22.68 416.42,20.95 419.02,19.32 421.63,17.77 424.23,16.31 426.84,14.95 429.44,13.67 432.05,12.49 434.66,11.39 437.26,10.39 439.87,9.48 442.47,8.67 445.08,7.95 447.68,7.32 450.29,6.78 452.89,6.34 455.50,6.00 458.10,5.75 460.71,5.60" fill="none" stroke="#1a1a1a" stroke-width="1.25" stroke-linejoin="round" stroke-dasharray="1.2 2.8 4.5 2.8"/>
<polyline points="356.49,83.60 359.10,79.75 361.70,75.99 364.31,72.34 366.91,68.78 369.52,65.32 372.12,61.95 374.73,58.69 377.33,55.52 379.94,52.45 382.54,49.47 385.15,46.60 387.76,43.82 390.36,41.14 392.97,38.55 395.57,36.07 398.18,33.68 400.78,31.39 403.39,29.19 405.99,27.10 408.60,25.10 411.21,23.20 413.81,21.39 416.42,19.69 419.02,18.08 421.63,16.57 424.23,15.15 426.84,13.84 429.44,12.62 432.05,11.50 434.66,10.47 437.26,9.55 439.87,8.72 442.47,7.99 445.08,7.35 447.68,6.82 450.29,6.38 452.89,6.04 455.50,5.79 458.10,5.65 460.71,5.60" fill="none" stroke="#1a1a1a" stroke-width="1.25" stroke-linejoin="round"/>
<polyline points="490.99,84.60 493.59,82.27 496.19,79.97 498.80,77.69 501.40,75.43 504.00,73.19 506.61,70.97 509.21,68.77 511.81,66.59 514.41,64.43 517.02,62.28 519.62,60.16 522.22,58.05 524.83,55.96 527.43,53.89 530.03,51.83 532.64,49.79 535.24,47.77 537.84,45.76 540.45,43.77 543.05,41.80 545.65,39.84 548.26,37.90 550.86,35.98 553.46,34.07 556.07,32.18 558.67,30.31 561.27,28.45 563.88,26.61 566.48,24.79 569.08,22.98 571.69,21.20 574.29,19.43 576.89,17.68 579.49,15.95 582.10,14.24 584.70,12.55 587.30,10.88 589.91,9.23 592.51,7.60 595.11,6.00" fill="none" stroke="#1a1a1a" stroke-width="1.25" stroke-linejoin="round" stroke-dasharray="5 3"/>
<polyline points="490.99,84.60 493.59,82.20 496.19,79.81 498.80,77.46 501.40,75.12 504.00,72.81 506.61,70.51 509.21,68.25 511.81,66.00 514.41,63.78 517.02,61.57 519.62,59.40 522.22,57.24 524.83,55.11 527.43,52.99 530.03,50.91 532.64,48.84 535.24,46.80 537.84,44.77 540.45,42.78 543.05,40.80 545.65,38.85 548.26,36.91 550.86,35.01 553.46,33.12 556.07,31.26 558.67,29.41 561.27,27.60 563.88,25.80 566.48,24.03 569.08,22.27 571.69,20.55 574.29,18.84 576.89,17.16 579.49,15.49 582.10,13.86 584.70,12.24 587.30,10.65 589.91,9.07 592.51,7.53 595.11,6.00" fill="none" stroke="#1a1a1a" stroke-width="1.25" stroke-linejoin="round"/>
<polyline points="77.00,195.20 86.70,195.30 91.20,196.50 100.90,197.70 110.40,198.70 119.90,200.00 129.30,199.80 138.80,200.70 148.40,202.80 157.90,203.20 174.60,204.10" fill="none" stroke="#1a1a1a" stroke-width="1.25" stroke-linejoin="round" stroke-dasharray="0.9 3.9"/>
<polyline points="77.00,132.60 80.00,131.60 84.00,130.60 89.30,132.20 96.00,132.40 102.00,133.60 108.00,133.00 114.00,135.20 120.00,135.00 128.00,136.40 136.00,136.00 144.00,136.80 152.00,139.60 159.60,139.30 164.90,141.90 168.30,142.80 174.60,140.30" fill="none" stroke="#1a1a1a" stroke-width="1.25" stroke-linejoin="round" stroke-dasharray="5 3"/>
<polyline points="77.00,127.00 80.60,130.30 87.30,129.30 94.00,132.70 100.60,131.30 107.20,134.60 113.90,133.40 123.30,136.70 130.00,135.30 136.60,138.70 143.20,137.50 151.60,140.70 158.30,139.40 164.90,142.60 168.30,141.20 174.60,141.80" fill="none" stroke="#1a1a1a" stroke-width="1.25" stroke-linejoin="round" stroke-dasharray="1.2 2.8 4.5 2.8"/>
<polyline points="77.00,128.00 80.60,129.00 87.30,130.30 94.00,131.40 100.60,132.30 107.20,133.30 113.90,134.40 123.30,135.40 130.00,136.30 136.60,137.40 143.20,138.50 151.60,139.40 158.30,140.40 164.90,141.30 168.30,142.20 174.60,145.80" fill="none" stroke="#1a1a1a" stroke-width="1.25" stroke-linejoin="round"/>
<polyline points="214.78,131.30 217.25,132.63 219.73,133.96 222.20,135.29 224.67,136.62 227.14,137.95 229.61,139.28 232.08,141.00 234.55,142.88 237.02,144.76 239.49,146.65 241.96,148.53 244.43,150.42 246.90,152.31 249.38,154.19 251.85,156.07 254.32,157.96 256.79,159.84 259.26,161.73 261.73,163.62 264.20,165.50 266.67,167.38 269.14,169.27 271.61,171.16 274.08,173.04 276.56,174.92 279.03,176.81 281.50,178.69 283.97,180.58 286.44,182.46 288.91,184.35 291.38,186.23 293.85,188.12 296.32,190.00 298.79,191.89 301.26,193.77 303.73,195.66 306.21,197.54 308.68,199.43 311.15,201.31 313.62,203.20" fill="none" stroke="#1a1a1a" stroke-width="1.25" stroke-linejoin="round" stroke-dasharray="0.9 3.9"/>
<polyline points="214.78,130.30 217.25,131.85 219.73,133.39 222.20,134.94 224.67,136.48 227.14,138.03 229.61,139.61 232.08,141.50 234.55,143.38 237.02,145.26 239.49,147.15 241.96,149.03 244.43,150.92 246.90,152.81 249.38,154.69 251.85,156.57 254.32,158.46 256.79,160.34 259.26,162.23 261.73,164.12 264.20,166.00 266.67,167.88 269.14,169.77 271.61,171.66 274.08,173.54 276.56,175.42 279.03,177.31 281.50,179.19 283.97,181.08 286.44,182.96 288.91,184.85 291.38,186.73 293.85,188.62 296.32,190.50 298.79,192.39 301.26,194.27 303.73,196.16 306.21,198.04 308.68,199.93 311.15,201.81 313.62,203.70" fill="none" stroke="#1a1a1a" stroke-width="1.25" stroke-linejoin="round" stroke-dasharray="5 3"/>
<polyline points="214.78,127.40 217.25,129.28 219.73,131.17 222.20,133.05 224.67,134.94 227.14,136.82 229.61,138.71 232.08,140.59 234.55,142.48 237.02,144.36 239.49,146.25 241.96,148.13 244.43,150.02 246.90,151.91 249.38,153.79 251.85,155.67 254.32,157.56 256.79,159.44 259.26,161.33 261.73,163.22 264.20,165.10 266.67,166.98 269.14,168.87 271.61,170.75 274.08,172.64 276.56,174.52 279.03,176.41 281.50,178.29 283.97,180.18 286.44,182.06 288.91,183.95 291.38,185.83 293.85,187.72 296.32,189.60 298.79,191.49 301.26,193.37 303.73,195.26 306.21,197.14 308.68,199.03 311.15,200.91 313.62,202.80" fill="none" stroke="#1a1a1a" stroke-width="1.25" stroke-linejoin="round" stroke-dasharray="1.2 2.8 4.5 2.8"/>
<polyline points="214.78,127.80 217.25,129.69 219.73,131.57 222.20,133.45 224.67,135.34 227.14,137.22 229.61,139.11 232.08,141.00 234.55,142.88 237.02,144.76 239.49,146.65 241.96,148.53 244.43,150.42 246.90,152.31 249.38,154.19 251.85,156.07 254.32,157.96 256.79,159.84 259.26,161.73 261.73,163.62 264.20,165.50 266.67,167.38 269.14,169.27 271.61,171.16 274.08,173.04 276.56,174.92 279.03,176.81 281.50,178.69 283.97,180.58 286.44,182.46 288.91,184.35 291.38,186.23 293.85,188.12 296.32,190.00 298.79,191.89 301.26,193.77 303.73,195.66 306.21,197.54 308.68,199.43 311.15,201.31 313.62,203.20" fill="none" stroke="#1a1a1a" stroke-width="1.25" stroke-linejoin="round"/>
<polyline points="358.25,134.00 360.71,135.64 363.17,137.27 365.64,138.89 368.10,140.51 370.56,142.11 373.02,143.71 375.48,145.28 377.95,146.84 380.41,148.39 382.87,149.90 385.33,151.39 387.79,152.83 390.26,154.21 392.72,155.46 395.18,157.39 397.64,159.31 400.11,161.22 402.57,163.12 405.03,165.02 407.49,166.90 409.95,168.78 412.42,170.64 414.88,172.50 417.34,174.35 419.80,176.19 422.26,178.02 424.73,179.84 427.19,181.65 429.65,183.46 432.11,185.26 434.58,187.05 437.04,188.84 439.50,190.62 441.96,192.40 444.42,194.17 446.89,195.94 449.35,197.71 451.81,199.47 454.27,201.24 456.73,203.00" fill="none" stroke="#1a1a1a" stroke-width="1.25" stroke-linejoin="round" stroke-dasharray="1.2 2.8 4.5 2.8"/>
<polyline points="358.25,130.00 360.71,131.65 363.17,133.30 365.64,134.95 368.10,136.59 370.56,138.23 373.02,139.87 375.48,141.74 377.95,143.72 380.41,145.69 382.87,147.66 385.33,149.62 387.79,151.57 390.26,153.52 392.72,155.46 395.18,157.39 397.64,159.31 400.11,161.22 402.57,163.12 405.03,165.02 407.49,166.90 409.95,168.78 412.42,170.64 414.88,172.50 417.34,174.35 419.80,176.19 422.26,178.02 424.73,179.84 427.19,181.65 429.65,183.46 432.11,185.26 434.58,187.05 437.04,188.84 439.50,190.62 441.96,192.40 444.42,194.17 446.89,195.94 449.35,197.71 451.81,199.47 454.27,201.24 456.73,203.00" fill="none" stroke="#1a1a1a" stroke-width="1.25" stroke-linejoin="round" stroke-dasharray="0.9 3.9"/>
<polyline points="358.25,128.60 360.71,130.47 363.17,132.34 365.64,134.21 368.10,136.08 370.56,137.94 373.02,139.80 375.48,141.74 377.95,143.72 380.41,145.69 382.87,147.66 385.33,149.56 387.79,151.40 390.26,153.23 392.72,155.04 395.18,156.85 397.64,158.66 400.11,160.45 402.57,162.23 405.03,164.02 407.49,165.90 409.95,167.78 412.42,169.64 414.88,171.50 417.34,173.35 419.80,175.19 422.26,177.02 424.73,178.84 427.19,180.65 429.65,182.46 432.11,184.26 434.58,186.05 437.04,187.84 439.50,189.62 441.96,191.40 444.42,193.17 446.89,194.94 449.35,196.71 451.81,198.47 454.27,200.24 456.73,202.00" fill="none" stroke="#1a1a1a" stroke-width="1.25" stroke-linejoin="round" stroke-dasharray="5 3"/>
<polyline points="358.25,127.80 360.71,129.80 363.17,131.79 365.64,133.79 368.10,135.78 370.56,137.77 373.02,139.76 375.48,141.74 377.95,143.72 380.41,145.69 382.87,147.66 385.33,149.62 387.79,151.57 390.26,153.52 392.72,155.46 395.18,157.39 397.64,159.31 400.11,161.22 402.57,163.12 405.03,165.02 407.49,166.90 409.95,168.78 412.42,170.64 414.88,172.50 417.34,174.35 419.80,176.19 422.26,178.02 424.73,179.84 427.19,181.65 429.65,183.46 432.11,185.26 434.58,187.05 437.04,188.84 439.50,190.62 441.96,192.40 444.42,194.17 446.89,195.94 449.35,197.71 451.81,199.47 454.27,201.24 456.73,203.00" fill="none" stroke="#1a1a1a" stroke-width="1.25" stroke-linejoin="round"/>
<polyline points="497.30,143.30 520.00,151.60 537.30,159.60 553.20,169.60 573.20,180.20 595.20,194.30" fill="none" stroke="#1a1a1a" stroke-width="1.25" stroke-linejoin="round" stroke-dasharray="1.2 2.8 4.5 2.8"/>
<polyline points="496.37,129.00 498.84,130.83 501.31,132.66 503.78,134.48 506.25,136.31 508.72,138.14 511.19,139.96 513.66,141.78 516.12,143.60 518.59,145.49 521.06,147.42 523.53,149.36 526.00,151.29 528.47,153.21 530.94,155.13 533.41,157.05 535.87,158.97 538.34,160.88 540.81,162.79 543.28,164.70 545.75,166.60 548.22,168.50 550.69,170.39 553.15,172.28 555.62,174.17 558.09,176.05 560.56,177.93 563.03,179.81 565.50,181.69 567.97,183.56 570.44,185.42 572.90,187.29 575.37,189.15 577.84,191.01 580.31,192.87 582.78,194.73 585.25,196.59 587.72,198.44 590.19,200.29 592.65,202.15 595.12,204.00" fill="none" stroke="#1a1a1a" stroke-width="1.25" stroke-linejoin="round" stroke-dasharray="5 3"/>
<polyline points="496.37,127.20 498.84,129.21 501.31,131.21 503.78,133.22 506.25,135.22 508.72,137.23 511.19,139.23 513.66,141.23 516.12,143.23 518.59,145.19 521.06,147.12 523.53,149.06 526.00,150.99 528.47,152.91 530.94,154.83 533.41,156.75 535.87,158.67 538.34,160.58 540.81,162.49 543.28,164.40 545.75,166.30 548.22,168.20 550.69,170.09 553.15,171.98 555.62,173.87 558.09,175.75 560.56,177.63 563.03,179.51 565.50,181.39 567.97,183.26 570.44,185.12 572.90,186.99 575.37,188.85 577.84,190.71 580.31,192.57 582.78,194.43 585.25,196.29 587.72,198.14 590.19,199.99 592.65,201.85 595.12,203.70" fill="none" stroke="#1a1a1a" stroke-width="1.25" stroke-linejoin="round" stroke-dasharray="0.9 3.9"/>
<polyline points="496.37,127.70 498.84,129.65 501.31,131.59 503.78,133.54 506.25,135.49 508.72,137.43 511.19,139.37 513.66,141.31 516.12,143.25 518.59,145.19 521.06,147.12 523.53,149.06 526.00,150.99 528.47,152.91 530.94,154.83 533.41,156.75 535.87,158.67 538.34,160.58 540.81,162.49 543.28,164.40 545.75,166.30 548.22,168.20 550.69,170.09 553.15,171.98 555.62,173.87 558.09,175.75 560.56,177.63 563.03,179.51 565.50,181.39 567.97,183.26 570.44,185.12 572.90,186.99 575.37,188.85 577.84,190.71 580.31,192.57 582.78,194.43 585.25,196.29 587.72,198.14 590.19,199.99 592.65,201.85 595.12,203.70" fill="none" stroke="#1a1a1a" stroke-width="1.25" stroke-linejoin="round"/>
<rect x="64.5" y="2.5" width="113.50" height="85.60" fill="none" stroke="#b2b2b6" stroke-width="1.1"/>
<rect x="205.7" y="2.5" width="113.60" height="85.60" fill="none" stroke="#b2b2b6" stroke-width="1.1"/>
<rect x="351.8" y="2.5" width="113.60" height="85.60" fill="none" stroke="#b2b2b6" stroke-width="1.1"/>
<rect x="486.3" y="2.5" width="113.50" height="85.60" fill="none" stroke="#b2b2b6" stroke-width="1.1"/>
<rect x="66.5" y="124.2" width="113.00" height="83.70" fill="none" stroke="#b2b2b6" stroke-width="1.1"/>
<rect x="204.9" y="124.2" width="113.40" height="83.70" fill="none" stroke="#b2b2b6" stroke-width="1.1"/>
<rect x="348.4" y="124.2" width="113.00" height="83.70" fill="none" stroke="#b2b2b6" stroke-width="1.1"/>
<rect x="486.5" y="124.2" width="113.30" height="83.70" fill="none" stroke="#b2b2b6" stroke-width="1.1"/>
<text transform="translate(9.9,45.2) rotate(-90) scale(1,1.1)" font-size="9.7" text-anchor="middle" fill="#1a1a1a">Erosion potential</text>
<text transform="translate(30.8,45.3) rotate(-90) scale(1,1.1)" font-size="9.7" text-anchor="middle" fill="#1a1a1a">(100,000,000 T / yr)</text>
<text transform="translate(8.9,165.9) rotate(-90)" font-size="8.6" text-anchor="middle" fill="#1a1a1a">Marginal change in eros. potential</text>
<text transform="translate(27.5,165.9) rotate(-90)" font-size="8.6" text-anchor="middle" fill="#1a1a1a">per ha converted (T / ha / yr)</text>
<text x="333.3" y="236.1" font-size="8.6" text-anchor="middle" fill="#1a1a1a">Percent converted</text>
<line x1="141.8" x2="221.9" y1="250.9" y2="250.9" stroke="#555" stroke-width="1.6"/>
<line x1="141.8" x2="221.9" y1="264.6" y2="264.6" stroke="#3a3a3a" stroke-width="1.4" stroke-dasharray="7.9 4"/>
<line x1="298.6" x2="378.9" y1="251.0" y2="251.0" stroke="#333" stroke-width="1.35" stroke-dasharray="1.25 3.55"/>
<line x1="298.6" x2="378.9" y1="264.6" y2="264.6" stroke="#333" stroke-width="1.5" stroke-dasharray="2.3 2.4 6.8 2.9"/>
<text x="236.5" y="254.3" font-size="8.5" fill="#1a1a1a">To stream</text>
<text x="236.5" y="267.9" font-size="8.5" fill="#1a1a1a">From stream</text>
<text x="393.0" y="254.3" font-size="8.5" fill="#1a1a1a">From stream + buffer</text>
<text x="393.0" y="267.9" font-size="8.5" fill="#1a1a1a">From cropland</text>
</svg></body></html>
